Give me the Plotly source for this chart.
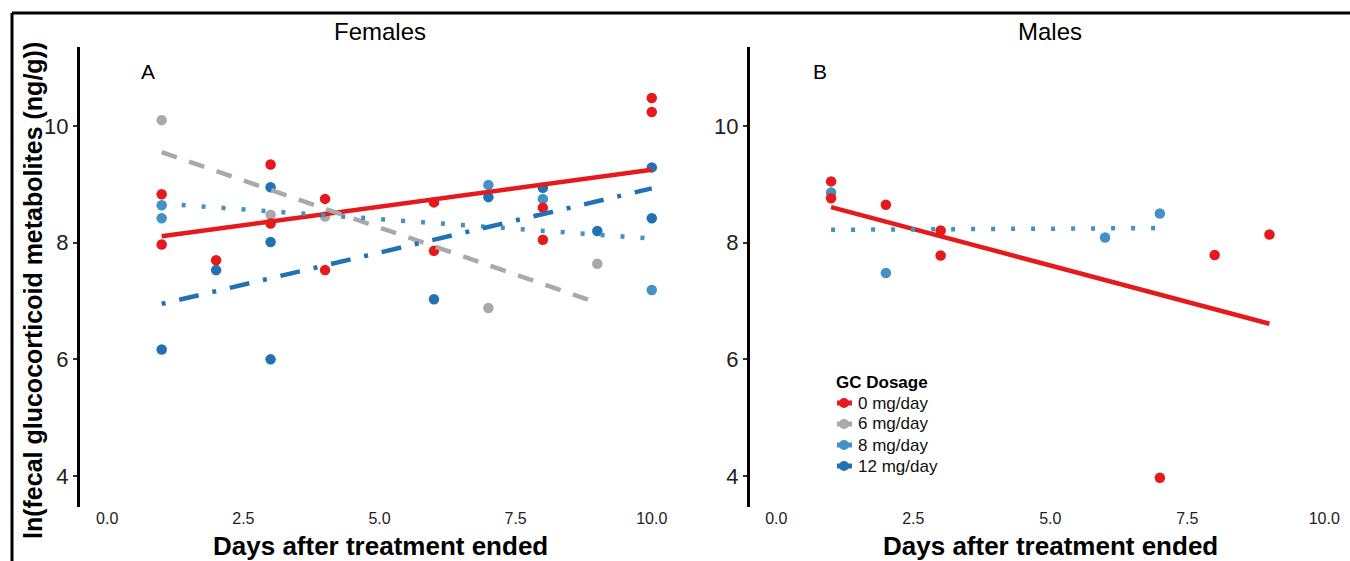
import plotly.graph_objects as go

W, H = 1350, 561

# ---------------- data ----------------
doses = ["0 mg/day", "6 mg/day", "8 mg/day", "12 mg/day"]
colors = {"0 mg/day": "#E41A1C", "6 mg/day": "#A9A9A9", "8 mg/day": "#4292C6", "12 mg/day": "#2171B5"}
dashes = {"0 mg/day": "solid", "6 mg/day": "16px,13px", "8 mg/day": "4px,16px", "12 mg/day": "4px,14px,20px,14px"}

# Females (panel A) observations
f_day_0 = [1, 1, 2, 3, 3, 4, 4, 6, 6, 8, 8, 10, 10]
f_val_0 = [8.83, 7.97, 7.70, 9.34, 8.33, 8.75, 7.53, 8.69, 7.86, 8.60, 8.05, 10.48, 10.24]
f_day_6 = [1, 3, 4, 7, 9]
f_val_6 = [10.10, 8.48, 8.45, 6.88, 7.64]
f_day_8 = [1, 1, 7, 8, 10]
f_val_8 = [8.64, 8.42, 8.99, 8.75, 7.19]
f_day_12 = [1, 2, 3, 3, 3, 6, 7, 8, 9, 10, 10]
f_val_12 = [6.17, 7.53, 8.95, 8.01, 6.00, 7.03, 8.78, 8.94, 8.20, 9.29, 8.42]

# Females fitted lines (start/end days and values)
f_fit_day = {"0 mg/day": [1, 10], "6 mg/day": [1, 9], "8 mg/day": [1, 10], "12 mg/day": [1, 10]}
f_fit_val = {"0 mg/day": [8.11, 9.25], "6 mg/day": [9.55, 6.97], "8 mg/day": [8.67, 8.07], "12 mg/day": [6.95, 8.93]}

# Males (panel B) observations
m_day_0 = [1, 1, 2, 3, 3, 7, 8, 9]
m_val_0 = [9.05, 8.76, 8.65, 8.21, 7.78, 3.97, 7.79, 8.14]
m_day_8 = [1, 2, 6, 7]
m_val_8 = [8.86, 7.48, 8.09, 8.50]

# Males fitted lines
m_fit_day = {"0 mg/day": [1, 9], "8 mg/day": [1, 7]}
m_fit_val = {"0 mg/day": [8.61, 6.61], "8 mg/day": [8.22, 8.25]}

x_ticks = [0, 2.5, 5, 7.5, 10]
y_ticks = [4, 6, 8, 10]

# ---------------- figure ----------------
FONT = "Liberation Sans, Arial, Helvetica, sans-serif"
fig = go.Figure()

def px(x):
    return x / W

def py(y):
    return 1 - y / H

female_pts = {"12 mg/day": (f_day_12, f_val_12), "8 mg/day": (f_day_8, f_val_8),
              "6 mg/day": (f_day_6, f_val_6), "0 mg/day": (f_day_0, f_val_0)}
male_pts = {"8 mg/day": (m_day_8, m_val_8), "0 mg/day": (m_day_0, m_val_0)}

for d, (xs, ys) in female_pts.items():
    fig.add_trace(go.Scatter(x=xs, y=ys, mode="markers", xaxis="x", yaxis="y",
                             marker=dict(size=10.5, color=colors[d]), showlegend=False, name=d))
for d, (xs, ys) in male_pts.items():
    fig.add_trace(go.Scatter(x=xs, y=ys, mode="markers", xaxis="x2", yaxis="y2",
                             marker=dict(size=10.5, color=colors[d]), showlegend=False, name=d))

for d in doses:
    fig.add_trace(go.Scatter(x=f_fit_day[d], y=f_fit_val[d], mode="lines", xaxis="x", yaxis="y",
                             line=dict(color=colors[d], width=4.5, dash=dashes[d]),
                             showlegend=False, name=d))
for d in ["0 mg/day", "8 mg/day"]:
    fig.add_trace(go.Scatter(x=m_fit_day[d], y=m_fit_val[d], mode="lines", xaxis="x2", yaxis="y2",
                             line=dict(color=colors[d], width=4.5, dash=dashes[d]),
                             showlegend=False, name=d))

xax = dict(range=[-0.5, 10.5], tickvals=x_ticks, ticktext=[f"{v:.1f}" for v in x_ticks],
           showline=False, showgrid=False, zeroline=False, ticks="", ticklen=0,
           tickfont=dict(family=FONT, size=16, color="#222"), fixedrange=True)
yax = dict(range=[3.469, 11.354], tickvals=y_ticks, showline=True, linecolor="black", linewidth=3,
           showgrid=False, zeroline=False, ticks="outside", ticklen=4, tickwidth=1.5, tickcolor="#333",
           tickfont=dict(family=FONT, size=22, color="#222"), fixedrange=True)

ydom = [py(507), py(47)]
fig.update_layout(
    width=W, height=H,
    margin=dict(l=0, r=0, t=0, b=0),
    paper_bgcolor="white", plot_bgcolor="white",
    showlegend=False,
    xaxis=dict(xax, domain=[px(80), px(679)], anchor="y"),
    yaxis=dict(yax, domain=ydom, anchor="x"),
    xaxis2=dict(xax, domain=[px(750), px(1350)], range=[-0.48, 10.47], anchor="y2"),
    yaxis2=dict(yax, domain=ydom, anchor="x2"),
)

ann = []
def text(x, y, s, size, bold=False, angle=0, xanchor="center", color="black"):
    ann.append(dict(x=px(x), y=py(y), xref="paper", yref="paper", text=f"<b>{s}</b>" if bold else s,
                    showarrow=False, xanchor=xanchor, yanchor="middle", textangle=angle,
                    font=dict(family=FONT, size=size, color=color)))

text(380, 31, "Females", 24)
text(1050, 31, "Males", 24)
text(148, 71, "A", 21)
text(820, 71, "B", 21)
text(380, 546, "Days after treatment ended", 26, bold=True)
text(1050, 546, "Days after treatment ended", 26, bold=True)
text(33, 291, "ln(fecal glucocorticoid metabolites (ng/g))", 25, bold=True, angle=-90)

# legend (drawn manually)
text(834, 382, "GC Dosage", 17, bold=True, xanchor="left")
shapes = []
for i, d in enumerate(doses):
    yy = 403 + i * 21
    text(856, yy, d, 17, xanchor="left", color="#111")
    shapes.append(dict(type="line", xref="paper", yref="paper", x0=px(837), x1=px(852), y0=py(yy), y1=py(yy),
                       line=dict(color=colors[d], width=5)))
    shapes.append(dict(type="circle", xref="paper", yref="paper", x0=px(839), x1=px(849),
                       y0=py(yy + 5), y1=py(yy - 5), fillcolor=colors[d], line=dict(width=0)))

# outer frame (top and left edges)
shapes.append(dict(type="line", xref="paper", yref="paper", x0=px(12), x1=px(1352), y0=py(13), y1=py(13),
                   line=dict(color="black", width=3)))
shapes.append(dict(type="line", xref="paper", yref="paper", x0=px(12), x1=px(12), y0=py(13), y1=py(563),
                   line=dict(color="black", width=3)))

fig.update_layout(annotations=ann, shapes=shapes)
fig.write_html("out.html", config={"displayModeBar": False},
               post_script="document.body.style.margin='0';document.body.style.overflow='hidden';")
